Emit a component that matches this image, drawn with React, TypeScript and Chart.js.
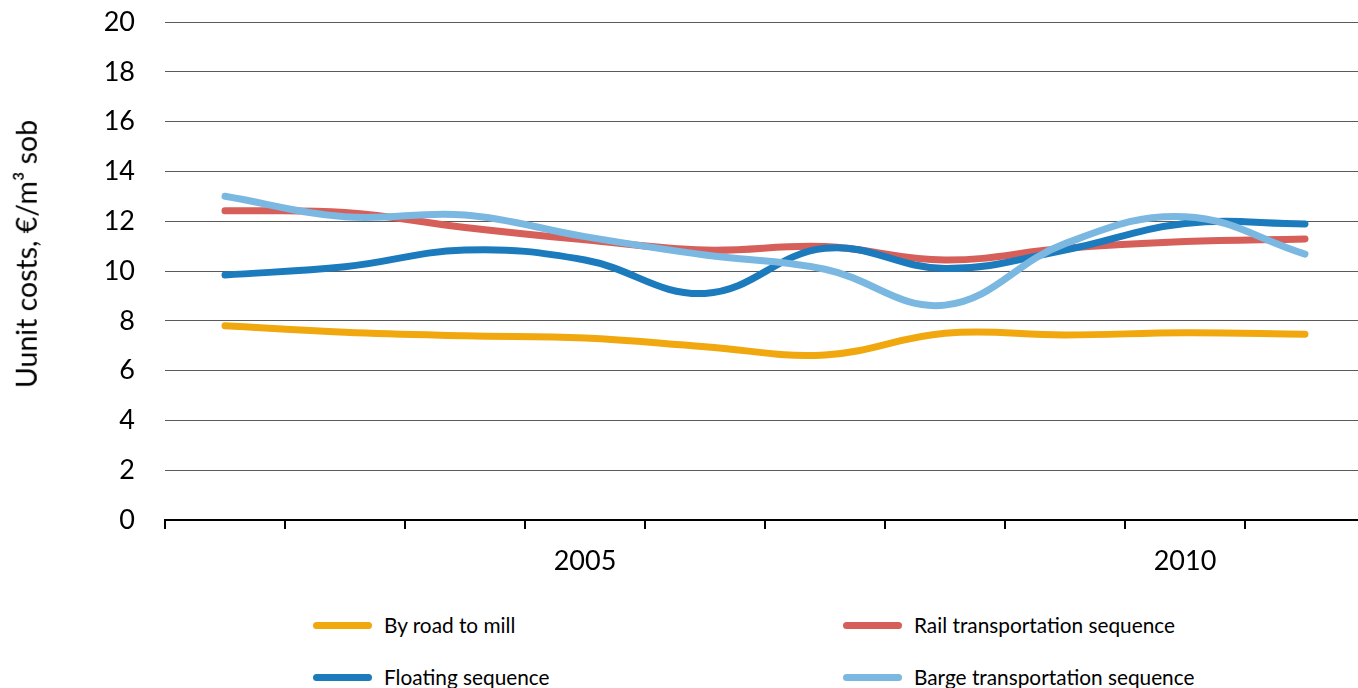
import React, { useEffect, useRef } from "react";
import { Chart, registerables } from "chart.js";

Chart.register(...registerables);

const years = ["2002", "2003", "2004", "2005", "2006", "2007", "2008", "2009", "2010", "2011"];
const shownYearLabels = ["2005", "2010"];
const byRoadToMill = [7.8, 7.54, 7.4, 7.31, 6.96, 6.63, 7.5, 7.43, 7.52, 7.46];
const railSequence = [12.42, 12.35, 11.75, 11.25, 10.84, 10.98, 10.44, 10.91, 11.18, 11.29];
const floatingSequence = [9.84, 10.17, 10.84, 10.44, 9.1, 10.91, 10.1, 10.84, 11.91, 11.89];
const bargeSequence = [13.0, 12.18, 12.25, 11.38, 10.64, 10.07, 8.63, 11.1, 12.18, 10.68];
const seriesNames = [
  "By road to mill",
  "Rail transportation sequence",
  "Floating sequence",
  "Barge transportation sequence",
];
const yAxisTitle = "Uunit costs, €/m³ sob";
const yMin = 0;
const yMax = 20;
const yStep = 2;

const COLORS = ["#F0A80E", "#D65F5A", "#1C7BBD", "#7BB8E1"];
const FONT = "Lato, 'Open Sans', sans-serif";

export default function App() {
  const canvasRef = useRef<HTMLCanvasElement | null>(null);

  useEffect(() => {
    const canvas = canvasRef.current;
    if (!canvas) return;
    const series = [byRoadToMill, railSequence, floatingSequence, bargeSequence];
    const chart = new Chart(canvas, {
      type: "line",
      data: {
        labels: years,
        datasets: series.map((d, i) => ({
          label: seriesNames[i],
          data: d,
          borderColor: COLORS[i],
          backgroundColor: COLORS[i],
          borderWidth: 7,
          borderCapStyle: "round" as const,
          borderJoinStyle: "round" as const,
          pointRadius: 0,
          pointHoverRadius: 0,
          tension: 0.4,
          fill: false,
          order: 3 - i,
        })),
      },
      options: {
        responsive: false,
        animation: false,
        layout: { padding: { top: 0, right: 10, bottom: 0, left: 0 } },
        plugins: {
          legend: { display: false },
          tooltip: { enabled: false },
          title: { display: false },
        },
        scales: {
          x: {
            type: "category",
            offset: true,
            grid: {
              offset: true,
              drawOnChartArea: false,
              drawTicks: true,
              tickLength: 9,
              color: "#000000",
              lineWidth: 2,
            },
            border: { display: true, color: "#000000", width: 2 },
            ticks: {
              autoSkip: false,
              maxRotation: 0,
              minRotation: 0,
              padding: 16,
              color: "#000000",
              font: { family: FONT, size: 27 },
              callback: function (this: any, value: any) {
                const lbl = this.getLabelForValue(value);
                return shownYearLabels.includes(lbl) ? lbl : "";
              },
            },
            afterFit: (scale: any) => {
              scale.height = 70;
            },
          },
          y: {
            min: yMin,
            max: yMax,
            grid: {
              drawTicks: false,
              color: "#5a5a5a",
              lineWidth: 1,
            },
            border: { display: false },
            ticks: {
              stepSize: yStep,
              padding: 30,
              color: "#000000",
              font: { family: FONT, size: 27 },
            },
            afterFit: (scale: any) => {
              scale.width = 165;
              scale.paddingTop = 22;
              scale.paddingBottom = 0;
            },
          },
        },
      },
    });
    return () => chart.destroy();
  }, []);

  const legendItems = [
    { name: seriesNames[0], color: COLORS[0], left: 313, top: 625 },
    { name: seriesNames[1], color: COLORS[1], left: 843, top: 625 },
    { name: seriesNames[2], color: COLORS[2], left: 313, top: 677 },
    { name: seriesNames[3], color: COLORS[3], left: 843, top: 677 },
  ];

  return (
    <div
      style={{
        position: "fixed",
        left: 0,
        top: 0,
        width: 1358,
        height: 688,
        overflow: "hidden",
        background: "#ffffff",
        fontFamily: FONT,
      }}
    >
      <canvas ref={canvasRef} width={1375} height={590} style={{ position: "absolute", left: 0, top: 0 }} />
      <div
        style={{
          position: "absolute",
          left: 26,
          top: 254,
          transform: "translate(-50%, -50%) rotate(-90deg)",
          whiteSpace: "nowrap",
          fontSize: 28.5,
          color: "#000",
          lineHeight: 1,
        }}
      >
        {yAxisTitle}
      </div>
      {legendItems.map((it) => (
        <div key={it.name}>
          <div
            style={{
              position: "absolute",
              left: it.left,
              top: it.top - 3.5,
              width: 59,
              height: 7,
              borderRadius: 3.5,
              background: it.color,
            }}
          />
          <div
            style={{
              position: "absolute",
              left: it.left + 71,
              top: it.top,
              transform: "translateY(-50%)",
              whiteSpace: "nowrap",
              fontSize: 20.8,
              color: "#000",
              lineHeight: 1,
            }}
          >
            {it.name}
          </div>
        </div>
      ))}
    </div>
  );
}
